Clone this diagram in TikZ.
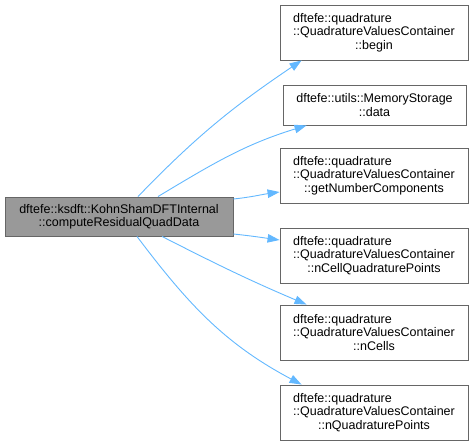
\documentclass[tikz,border=0pt]{standalone}
\usepackage{fontspec}
\setmainfont{Liberation Sans}
\usepackage{xcolor}
\usepackage{tikz}
\usetikzlibrary{positioning,arrows.meta,calc}

\definecolor{edgeblue}{HTML}{63B8FF}
\definecolor{boxline}{HTML}{666666}
\definecolor{mainfill}{HTML}{999999}

% first line flush left, width of the widest line
\newcommand{\leftfirst}[2]{\rlap{#1}\phantom{#2}}

\tikzset{
    fnbox/.style={draw=boxline, fill=white, line width=0.9pt, align=center, inner sep=0pt,
        minimum width=188pt, minimum height=55pt, font=\fontsize{12.5}{13.4}\selectfont},
    mainbox/.style={fnbox, fill=mainfill, minimum width=228pt, minimum height=39pt},
    call/.style={draw=edgeblue, line width=0.9pt, -{Triangle[length=12pt,width=8.5pt]}}
}

\begin{document}
\begin{tikzpicture}[x=1pt,y=-1pt]
    \useasboundingbox (0,0) rectangle (473,445);

    \node[mainbox] (main) at (119,216.5) {dftefe::ksdft::KohnShamDFTInternal\\::computeResidualQuadData};

    \node[fnbox] (begin) at (374,32.5) {\leftfirst{dftefe::quadrature}{::QuadratureValuesContainer}\\::QuadratureValuesContainer\\::begin};
    \node[fnbox, minimum width=183pt, minimum height=40pt] (data) at (374.5,105) {dftefe::utils::MemoryStorage\\::data};
    \node[fnbox] (getnc) at (374,175.5) {\leftfirst{dftefe::quadrature}{::QuadratureValuesContainer}\\::QuadratureValuesContainer\\::getNumberComponents};
    \node[fnbox] (ncellqp) at (374,255.5) {\leftfirst{dftefe::quadrature}{::QuadratureValuesContainer}\\::QuadratureValuesContainer\\::nCellQuadraturePoints};
    \node[fnbox] (ncells) at (374,332.5) {\leftfirst{dftefe::quadrature}{::QuadratureValuesContainer}\\::QuadratureValuesContainer\\::nCells};
    \node[fnbox] (nqp) at (374,412.5) {\leftfirst{dftefe::quadrature}{::QuadratureValuesContainer}\\::QuadratureValuesContainer\\::nQuadraturePoints};

    % calls
    \draw[call] ([xshift=19pt]main.north) to[out=46,in=214] ([xshift=22pt]begin.south west);
    \draw[call] ([xshift=39pt]main.north) to[out=31,in=197] ([xshift=24pt]data.south west);
    \draw[call] ([yshift=17.5pt]main.east) to[out=6,in=188] ([yshift=-16.5pt]getnc.west);
    \draw[call] ([yshift=-17.5pt]main.east) to[out=-6,in=172] ([yshift=15.5pt]ncellqp.west);
    \draw[call] ([xshift=43pt]main.south) to[out=-27,in=157] ([xshift=27pt]ncells.north west);
    \draw[call] ([xshift=18pt]main.south) to[out=-53,in=152] ([xshift=22pt]nqp.north west);
\end{tikzpicture}
\end{document}
